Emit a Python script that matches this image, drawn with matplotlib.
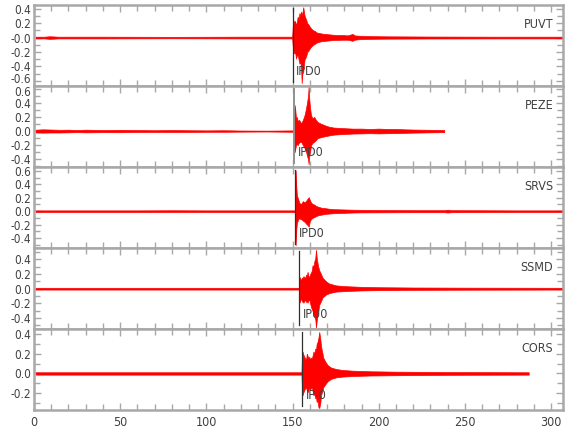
import matplotlib
matplotlib.use("Agg")
import matplotlib.pyplot as plt
from matplotlib.ticker import FixedLocator, MultipleLocator
import matplotlib.transforms as mtransforms

plt.rcParams['font.family'] = ['DejaVu Sans']
plt.rcParams['font.stretch'] = 'condensed'
plt.rcParams['axes.unicode_minus'] = False

# station names (top to bottom) and P picks
stations = ["PUVT", "PEZE", "SRVS", "SSMD", "CORS"]
pick_labels = ["IPD0", "IPD0", "IPD0", "IPU0", "IP-0"]
pick_times = [150.0, 151.0, 151.6, 153.9, 155.3]

# trace envelopes: time (s), upper, lower amplitude
t_puvt = [1, 6, 9, 11, 14, 40, 80, 120, 149.8,
          150.1, 150.5, 151.0, 151.5, 152.0, 152.5, 153.0, 153.5, 154.0, 154.5,
          155.0, 155.3, 155.7, 156.2, 156.6, 157.0, 157.5, 158.0, 158.5, 159.0,
          160, 161, 162, 163, 164, 165, 167, 169, 171, 173,
          176, 179, 182, 184.8, 186, 189, 195, 205, 230, 270, 307]
hi_puvt = [0.012, 0.012, 0.018, 0.016, 0.012, 0.012, 0.01, 0.012, 0.012,
           0.15, 0.24, 0.2, 0.23, 0.16, 0.22, 0.29, 0.25, 0.34, 0.3,
           0.36, 0.3, 0.34, 0.42, 0.36, 0.3, 0.27, 0.24, 0.2, 0.19,
           0.15, 0.12, 0.1, 0.09, 0.07, 0.065, 0.055, 0.05, 0.045, 0.04,
           0.035, 0.035, 0.03, 0.05, 0.03, 0.025, 0.02, 0.017, 0.014, 0.012, 0.012]
lo_puvt = [-0.012, -0.012, -0.018, -0.016, -0.012, -0.012, -0.01, -0.012, -0.012,
           -0.12, -0.19, -0.22, -0.2, -0.29, -0.25, -0.24, -0.3, -0.36, -0.33,
           -0.45, -0.63, -0.5, -0.47, -0.38, -0.3, -0.28, -0.25, -0.2, -0.19,
           -0.15, -0.12, -0.1, -0.085, -0.07, -0.06, -0.05, -0.045, -0.04, -0.035,
           -0.033, -0.03, -0.03, -0.045, -0.03, -0.022, -0.018, -0.015, -0.013, -0.012, -0.012]

t_peze = [1, 5, 10, 15, 20, 25, 30, 40, 50, 60, 70, 80, 90, 100, 110, 120, 135,
          150.9, 151.2, 151.6, 152.0, 152.5, 153.0, 153.5,
          154, 155, 156, 157, 157.8, 158.5, 159, 159.3, 159.7, 160.2, 160.7,
          161.5, 162.6, 163.5, 164.5, 166, 167.5, 169.5, 171.5,
          174, 177, 181, 185, 190, 195, 200, 205, 210, 215, 220, 225, 230, 238]
hi_peze = [0.02, 0.025, 0.022, 0.018, 0.02, 0.015, 0.02, 0.015, 0.018, 0.015, 0.012,
           0.015, 0.012, 0.01, 0.012, 0.008, 0.006,
           0.01, 0.37, 0.3, 0.18, 0.2, 0.13, 0.16,
           0.15, 0.11, 0.16, 0.23, 0.32, 0.42, 0.5, 0.63, 0.45, 0.32, 0.23,
           0.18, 0.2, 0.16, 0.13, 0.11, 0.095, 0.075, 0.06,
           0.05, 0.045, 0.04, 0.035, 0.035, 0.03, 0.035, 0.03, 0.03, 0.025, 0.022, 0.02, 0.018, 0.015]
lo_peze = [-0.02, -0.022, -0.02, -0.02, -0.018, -0.015, -0.018, -0.015, -0.016, -0.013, -0.012,
           -0.013, -0.012, -0.01, -0.01, -0.008, -0.006,
           -0.01, -0.3, -0.25, -0.2, -0.18, -0.2, -0.17,
           -0.16, -0.15, -0.2, -0.24, -0.29, -0.36, -0.4, -0.47, -0.35, -0.29, -0.2,
           -0.17, -0.15, -0.13, -0.1, -0.09, -0.08, -0.07, -0.06,
           -0.05, -0.045, -0.04, -0.035, -0.033, -0.03, -0.033, -0.03, -0.028, -0.025, -0.022, -0.02, -0.018, -0.015]

t_srvs = [1, 20, 40, 60, 80, 100, 120, 140,
          151.5, 151.8, 152.1, 152.5, 153.0, 153.5, 154.0,
          155, 156, 157, 158, 158.8, 159.4, 160, 160.7,
          161.5, 162.5, 163.5, 165, 167, 169, 171.5, 174, 177, 181, 185, 190, 200,
          220, 238, 240, 242, 260, 280, 307]
hi_srvs = [0.012, 0.012, 0.012, 0.012, 0.014, 0.012, 0.012, 0.012,
           0.012, 0.61, 0.4, 0.24, 0.2, 0.16, 0.12,
           0.11, 0.15, 0.13, 0.16, 0.19, 0.21, 0.17, 0.13,
           0.11, 0.1, 0.08, 0.065, 0.05, 0.045, 0.035, 0.03, 0.028, 0.025, 0.022, 0.02, 0.018,
           0.015, 0.015, 0.022, 0.015, 0.014, 0.012, 0.012]
lo_srvs = [-0.012, -0.012, -0.012, -0.012, -0.012, -0.012, -0.012, -0.012,
           -0.012, -0.51, -0.3, -0.18, -0.14, -0.11, -0.11,
           -0.12, -0.14, -0.16, -0.19, -0.21, -0.23, -0.15, -0.12,
           -0.1, -0.09, -0.075, -0.06, -0.05, -0.04, -0.035, -0.03, -0.027, -0.024, -0.02, -0.018, -0.017,
           -0.015, -0.015, -0.02, -0.015, -0.013, -0.012, -0.012]

t_ssmd = [1, 20, 40, 60, 80, 100, 120, 140,
          153.8, 154.1, 154.5, 154.9, 155.4, 155.8, 156.3, 156.8, 157.3, 157.8,
          158.3, 158.7, 159.2, 159.7, 160.2, 160.7, 161.2, 161.6, 162.1, 162.6,
          163.2, 163.6, 164.1, 164.9, 165.5, 166.5, 167.4, 169.4, 171.3, 175.2,
          180, 185, 190, 200, 220, 250, 280, 307]
hi_ssmd = [0.012, 0.012, 0.012, 0.012, 0.012, 0.012, 0.012, 0.012,
           0.012, 0.16, 0.13, 0.12, 0.15, 0.14, 0.17, 0.16, 0.14, 0.19,
           0.17, 0.23, 0.18, 0.15, 0.2, 0.22, 0.25, 0.32, 0.3, 0.37,
           0.42, 0.53, 0.4, 0.3, 0.25, 0.2, 0.15, 0.1, 0.07, 0.045,
           0.035, 0.03, 0.025, 0.02, 0.016, 0.014, 0.013, 0.012]
lo_ssmd = [-0.012, -0.012, -0.012, -0.012, -0.012, -0.012, -0.012, -0.012,
           -0.012, -0.19, -0.15, -0.14, -0.17, -0.18, -0.19, -0.17, -0.15, -0.18,
           -0.17, -0.19, -0.16, -0.15, -0.2, -0.25, -0.28, -0.3, -0.34, -0.38,
           -0.42, -0.53, -0.42, -0.3, -0.22, -0.17, -0.12, -0.08, -0.06, -0.04,
           -0.033, -0.028, -0.024, -0.02, -0.016, -0.014, -0.013, -0.012]

t_cors = [1, 20, 40, 60, 80, 100, 120, 140,
          155.2, 155.5, 155.8, 156.3, 156.8, 157.3, 157.8, 158.3, 158.7,
          159.2, 159.7, 160.2, 160.7, 161.2, 161.6, 162.1, 162.6, 163.1, 163.6,
          164.0, 164.5, 165.0, 165.5, 166.1, 166.5, 166.9, 167.4, 167.8,
          169.0, 170.3, 172.3, 175.2, 179, 185, 195, 210, 240, 287]
hi_cors = [0.012, 0.012, 0.012, 0.012, 0.012, 0.012, 0.012, 0.012,
           0.012, 0.2, 0.22, 0.19, 0.17, 0.15, 0.14, 0.2, 0.18,
           0.15, 0.17, 0.14, 0.16, 0.15, 0.18, 0.22, 0.2, 0.25, 0.24,
           0.3, 0.32, 0.36, 0.42, 0.35, 0.28, 0.24, 0.2, 0.16,
           0.12, 0.085, 0.06, 0.045, 0.035, 0.028, 0.022, 0.018, 0.014, 0.012]
lo_cors = [-0.012, -0.012, -0.012, -0.012, -0.012, -0.012, -0.012, -0.012,
           -0.012, -0.2, -0.22, -0.19, -0.17, -0.15, -0.14, -0.17, -0.19,
           -0.17, -0.15, -0.16, -0.15, -0.14, -0.17, -0.22, -0.2, -0.25, -0.24,
           -0.29, -0.27, -0.34, -0.35, -0.3, -0.22, -0.2, -0.17, -0.14,
           -0.11, -0.08, -0.055, -0.04, -0.032, -0.026, -0.021, -0.018, -0.014, -0.012]

# y axes
ylims = [(-0.67, 0.45), (-0.51, 0.64), (-0.55, 0.66), (-0.55, 0.555), (-0.37, 0.45)]
yticks = [[-0.6, -0.4, -0.2, 0.0, 0.2, 0.4],
          [-0.4, -0.2, 0.0, 0.2, 0.4, 0.6],
          [-0.4, -0.2, 0.0, 0.2, 0.4, 0.6],
          [-0.4, -0.2, 0.0, 0.2, 0.4],
          [-0.2, 0.0, 0.2, 0.4]]
ytick_labels = [["-0.6", "-0.4", "-0.2", "-0.0", "0.2", "0.4"],
                ["-0.4", "-0.2", "0.0", "0.2", "0.4", "0.6"],
                ["-0.4", "-0.2", "0.0", "0.2", "0.4", "0.6"],
                ["-0.4", "-0.2", "0.0", "0.2", "0.4"],
                ["-0.2", "0.0", "0.2", "0.4"]]

traces = [(t_puvt, hi_puvt, lo_puvt), (t_peze, hi_peze, lo_peze),
          (t_srvs, hi_srvs, lo_srvs), (t_ssmd, hi_ssmd, lo_ssmd),
          (t_cors, hi_cors, lo_cors)]

grey = '#a8a8a8'
txt = '#404040'
fs = 9

fig, axes = plt.subplots(5, 1, sharex=True, figsize=(5.8, 4.4), dpi=100,
                         gridspec_kw=dict(hspace=0))
fig.subplots_adjust(left=0.0586, right=0.971, top=0.9886, bottom=0.0682)

for i, ax in enumerate(axes):
    t, hi, lo = traces[i]
    ax.fill_between(t, lo, hi, color='#ff0000', lw=0.5, zorder=2)

    # pick line + label
    pick_col = '#909090' if i == 1 else '#303030'
    ax.axvline(pick_times[i], ymin=0.05, ymax=0.96, color=pick_col,
               lw=1.4 if i == 1 else 0.9, zorder=3)
    trans = mtransforms.blended_transform_factory(ax.transData, ax.transAxes)
    ax.text(pick_times[i] + 2.2, 0.18, pick_labels[i], transform=trans,
            ha='left', va='center', fontsize=fs, color=txt, zorder=5)
    ax.text(0.981, 0.76, stations[i], transform=ax.transAxes,
            ha='right', va='center', fontsize=fs, color=txt, zorder=5)

    ax.set_xlim(0, 307)
    ax.set_ylim(*ylims[i])
    ax.yaxis.set_major_locator(FixedLocator(yticks[i]))
    ax.set_yticklabels(ytick_labels[i])
    ax.yaxis.set_minor_locator(MultipleLocator(0.1))
    ax.xaxis.set_major_locator(MultipleLocator(50))
    ax.xaxis.set_minor_locator(MultipleLocator(10))
    ax.tick_params(which='both', direction='in', top=True, right=True,
                   color=grey, width=1.0, labelcolor=txt, labelsize=fs, pad=2)
    ax.tick_params(axis='y', labelsize=8.5)
    ax.tick_params(which='major', length=5)
    ax.tick_params(which='minor', length=4)
    for s in ax.spines.values():
        s.set_color(grey)
        s.set_linewidth(1.8)

# nudge the two labels that meet at the first/second panel border apart
lab_lo = axes[0].get_yticklabels()[0]
lab_lo.set_transform(lab_lo.get_transform() +
                     mtransforms.ScaledTranslation(0, 2.6 / 100, fig.dpi_scale_trans))
lab_hi = axes[1].get_yticklabels()[-1]
lab_hi.set_transform(lab_hi.get_transform() +
                     mtransforms.ScaledTranslation(0, -2.6 / 100, fig.dpi_scale_trans))
axes[-1].tick_params(axis='x', pad=4)

fig.savefig('out.png', dpi=100)
